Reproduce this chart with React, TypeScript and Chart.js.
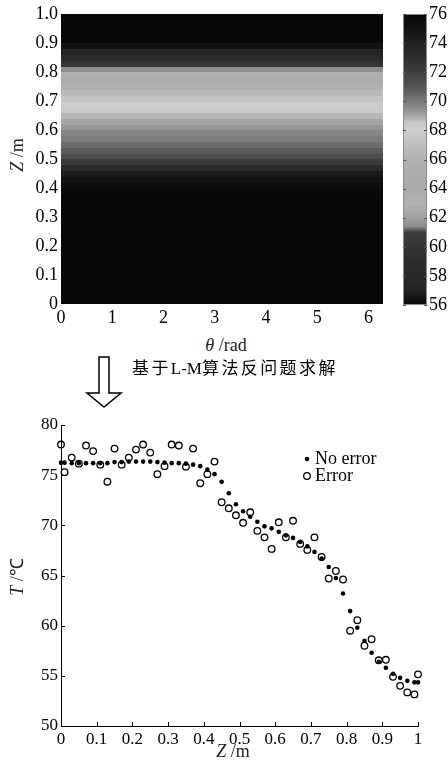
import React, { useEffect, useRef } from 'react';
import { Chart, registerables } from 'chart.js';

Chart.register(...registerables);

// ---------------- data ----------------
const zValues = [
  0, 0.01, 0.03, 0.05, 0.07, 0.09, 0.11, 0.13, 0.15, 0.17, 0.19, 0.21, 0.23, 0.25, 0.27, 0.29,
  0.31, 0.33, 0.35, 0.37, 0.39, 0.41, 0.43, 0.45, 0.47, 0.49, 0.51, 0.53, 0.55, 0.57, 0.59,
  0.61, 0.63, 0.65, 0.67, 0.69, 0.71, 0.73, 0.75, 0.77, 0.79, 0.81, 0.83, 0.85, 0.87, 0.89,
  0.91, 0.93, 0.95, 0.97, 0.99, 1.0,
];
const tNoError = [
  76.25, 76.25, 76.2, 76.2, 76.2, 76.2, 76.2, 76.2, 76.3, 76.3, 76.35, 76.35, 76.35, 76.35, 76.3, 76.25,
  76.2, 76.2, 76.15, 76.05, 75.9, 75.55, 75.1, 74.35, 73.2, 72.1, 71.4, 70.85, 70.35, 69.9, 69.7,
  69.35, 69.0, 68.75, 68.35, 67.9, 67.35, 66.7, 65.85, 64.75, 63.2, 61.45, 59.8, 58.5, 57.3, 56.4,
  55.8, 55.2, 54.8, 54.5, 54.35, 54.35,
];
const tError = [
  78.05, 75.3, 76.75, 76.15, 77.95, 77.4, 76.05, 74.35, 77.65, 76.05, 76.75, 77.55, 78.05, 77.25, 75.1, 75.9,
  78.05, 77.95, 75.85, 77.65, 74.2, 75.1, 76.35, 72.3, 71.7, 71.0, 70.25, 71.3, 69.45, 68.8, 67.65,
  70.3, 68.8, 70.45, 68.15, 67.55, 68.8, 66.85, 64.7, 65.45, 64.6, 59.5, 60.55, 58.0, 58.65, 56.55,
  56.6, 54.9, 54.0, 53.35, 53.15, 55.15,
];
const seriesLabels = ['No error', 'Error'];

const thetaMin = 0;
const thetaMax = 2 * Math.PI;
const thetaTicks = [0, 1, 2, 3, 4, 5, 6];
const heatZTicks = [0, 0.1, 0.2, 0.3, 0.4, 0.5, 0.6, 0.7, 0.8, 0.9, 1.0];
const colorbarTicks = [56, 58, 60, 62, 64, 66, 68, 70, 72, 74, 76];
const tempTicks = [50, 55, 60, 65, 70, 75, 80];
const zTicks = [0, 0.1, 0.2, 0.3, 0.4, 0.5, 0.6, 0.7, 0.8, 0.9, 1];

// colormap (temperature -> gray level)
const colormapT = [56, 57, 58, 59, 60, 61, 61.4, 62, 62.5, 63, 64, 65, 66, 67, 68, 68.5, 69, 70, 71, 72, 73, 74, 75, 76];
const colormapGray = [8, 34, 40, 45, 52, 62, 140, 160, 170, 178, 170, 172, 178, 190, 205, 200, 165, 120, 85, 62, 45, 32, 18, 8];

const SERIF = "'Liberation Serif', 'Times New Roman', serif";

function grayFor(t: number): string {
  let g = colormapGray[0];
  if (t >= colormapT[colormapT.length - 1]) g = colormapGray[colormapGray.length - 1];
  else if (t > colormapT[0]) {
    for (let i = 0; i < colormapT.length - 1; i++) {
      if (t >= colormapT[i] && t <= colormapT[i + 1]) {
        const f = (t - colormapT[i]) / (colormapT[i + 1] - colormapT[i]);
        g = colormapGray[i] + f * (colormapGray[i + 1] - colormapGray[i]);
        break;
      }
    }
  }
  const v = Math.round(g);
  return `rgb(${v},${v},${v})`;
}

const setTicks = (vals: number[]) => (scale: any) => {
  scale.ticks = vals.map((v) => ({ value: v }));
};

// heatmap plugin: rows of Z bands spanning theta range
const heatmapPlugin = {
  id: 'heatmapRows',
  beforeDatasetsDraw(chart: any) {
    const { ctx, scales } = chart;
    const x = scales.x;
    const y = scales.y;
    const x0 = Math.round(x.getPixelForValue(thetaMin));
    const x1 = Math.round(x.getPixelForValue(thetaMax));
    ctx.save();
    const n = zValues.length;
    for (let i = 0; i < n; i++) {
      const zlo = i === 0 ? 0 : (zValues[i - 1] + zValues[i]) / 2;
      const zhi = i === n - 1 ? 1 : (zValues[i] + zValues[i + 1]) / 2;
      const yTop = Math.floor(y.getPixelForValue(zhi));
      const yBot = Math.ceil(y.getPixelForValue(zlo));
      ctx.fillStyle = grayFor(tNoError[i]);
      ctx.fillRect(x0, yTop, x1 - x0, yBot - yTop);
    }
    ctx.restore();
  },
};

// colorbar plugin
const colorbarPlugin = {
  id: 'colorbarFill',
  beforeDatasetsDraw(chart: any) {
    const { ctx, chartArea: a, scales } = chart;
    const y = scales.y;
    const yLo = y.getPixelForValue(colormapT[0]);
    const yHi = y.getPixelForValue(colormapT[colormapT.length - 1]);
    const grad = ctx.createLinearGradient(0, yLo, 0, yHi);
    const span = colormapT[colormapT.length - 1] - colormapT[0];
    colormapT.forEach((t, i) => {
      const v = colormapGray[i];
      grad.addColorStop((t - colormapT[0]) / span, `rgb(${v},${v},${v})`);
    });
    ctx.save();
    ctx.fillStyle = grad;
    ctx.fillRect(a.left, a.top, a.right - a.left, a.bottom - a.top);
    ctx.strokeStyle = '#8a8a8a';
    ctx.lineWidth = 1;
    ctx.strokeRect(a.left + 0.5, a.top + 0.5, a.right - a.left - 1, a.bottom - a.top - 1);
    ctx.restore();
  },
};

// inward tick marks
const innerTicksPlugin = {
  id: 'innerTicks',
  afterDraw(chart: any, _args: any, opts: any) {
    if (!opts || !opts.enabled) return;
    const { ctx, chartArea: a, scales } = chart;
    const len = opts.length || 4;
    ctx.save();
    ctx.strokeStyle = opts.color || '#000';
    ctx.lineWidth = 1;
    ctx.beginPath();
    if (opts.xBottom) {
      for (const t of scales.x.ticks) {
        const p = Math.round(scales.x.getPixelForValue(t.value)) + 0.5;
        ctx.moveTo(p, a.bottom);
        ctx.lineTo(p, a.bottom - len);
      }
    }
    if (opts.yLeft) {
      for (const t of scales.y.ticks) {
        const p = Math.round(scales.y.getPixelForValue(t.value)) + 0.5;
        ctx.moveTo(a.left, p);
        ctx.lineTo(a.left + len, p);
      }
    }
    if (opts.yRight) {
      for (const t of scales.y.ticks) {
        const p = Math.round(scales.y.getPixelForValue(t.value)) + 0.5;
        ctx.moveTo(a.right, p);
        ctx.lineTo(a.right - len, p);
      }
    }
    ctx.stroke();
    ctx.restore();
  },
};

// legend drawn inside plot
const legendPlugin = {
  id: 'innerLegend',
  afterDraw(chart: any, _args: any, opts: any) {
    if (!opts || !opts.enabled) return;
    const { ctx } = chart;
    ctx.save();
    ctx.font = `18px ${SERIF}`;
    ctx.fillStyle = '#000';
    ctx.textBaseline = 'middle';
    ctx.textAlign = 'left';
    const items = opts.items;
    items.forEach((it: any) => {
      ctx.beginPath();
      if (it.filled) {
        ctx.fillStyle = '#000';
        ctx.arc(it.mx, it.my, 2.3, 0, Math.PI * 2);
        ctx.fill();
      } else {
        ctx.strokeStyle = '#000';
        ctx.lineWidth = 1.3;
        ctx.arc(it.mx, it.my, 3.3, 0, Math.PI * 2);
        ctx.stroke();
      }
      ctx.fillStyle = '#000';
      ctx.fillText(it.text, it.tx, it.my);
    });
    ctx.restore();
  },
};

const fmtOneDec = (v: number) => (v === 0 ? '0' : v.toFixed(1));
const fmtZ = (v: number) => (v === 0 ? '0' : v === 1 ? '1' : v.toFixed(1));

export default function App() {
  const heatRef = useRef<HTMLCanvasElement>(null);
  const cbRef = useRef<HTMLCanvasElement>(null);
  const lineRef = useRef<HTMLCanvasElement>(null);

  useEffect(() => {
    const tickFont = { family: SERIF, size: 18 };
    const tickFont2 = { family: SERIF, size: 17 };

    const heat = new Chart(heatRef.current as HTMLCanvasElement, {
      type: 'scatter',
      data: { datasets: [] },
      options: {
        responsive: false,
        animation: false,
        events: [],
        layout: { padding: { left: 0, top: 14, right: 7, bottom: 0 } },
        plugins: { legend: { display: false }, tooltip: { enabled: false } },
        scales: {
          x: {
            type: 'linear',
            min: thetaMin,
            max: thetaMax,
            afterBuildTicks: setTicks(thetaTicks),
            afterFit: (s: any) => { s.height = 26; },
            grid: { display: false, drawTicks: false },
            border: { display: false },
            ticks: { font: tickFont, color: '#000', padding: 3, autoSkip: false, maxRotation: 0, callback: (v: any) => String(v) },
          },
          y: {
            type: 'linear',
            min: 0,
            max: 1,
            afterBuildTicks: setTicks(heatZTicks),
            afterFit: (s: any) => { s.width = 61; },
            grid: { display: false, drawTicks: false },
            border: { display: false },
            ticks: { font: tickFont, color: '#000', padding: 3, autoSkip: false, callback: (v: any) => fmtOneDec(Number(v)) },
          },
        },
      } as any,
      plugins: [heatmapPlugin],
    });

    const cb = new Chart(cbRef.current as HTMLCanvasElement, {
      type: 'scatter',
      data: { datasets: [] },
      options: {
        responsive: false,
        animation: false,
        events: [],
        layout: { padding: { left: 23, top: 14, right: 0, bottom: 25 } },
        plugins: {
          legend: { display: false },
          tooltip: { enabled: false },
          innerTicks: { enabled: true, yLeft: true, yRight: true, length: 3, color: '#555' },
        },
        scales: {
          x: { type: 'linear', display: false, min: 0, max: 1 },
          y: {
            type: 'linear',
            position: 'right',
            min: colorbarTicks[0],
            max: colorbarTicks[colorbarTicks.length - 1],
            afterBuildTicks: setTicks(colorbarTicks),
            afterFit: (s: any) => { s.width = 21; },
            grid: { display: false, drawTicks: false },
            border: { display: false },
            ticks: { font: tickFont, color: '#000', padding: 2, autoSkip: false, callback: (v: any) => String(v) },
          },
        },
      } as any,
      plugins: [colorbarPlugin, innerTicksPlugin],
    });

    const line = new Chart(lineRef.current as HTMLCanvasElement, {
      type: 'scatter',
      data: {
        datasets: [
          {
            label: seriesLabels[1],
            data: zValues.map((z, i) => ({ x: z, y: tError[i] })),
            pointStyle: 'circle',
            pointRadius: 3.3,
            pointBorderWidth: 1.3,
            borderColor: '#000',
            backgroundColor: 'rgba(0,0,0,0)',
            pointBackgroundColor: 'rgba(0,0,0,0)',
            pointBorderColor: '#000',
            showLine: false,
          },
          {
            label: seriesLabels[0],
            data: zValues.map((z, i) => ({ x: z, y: tNoError[i] })),
            pointStyle: 'circle',
            pointRadius: 2.3,
            pointBorderWidth: 0,
            borderColor: '#000',
            backgroundColor: '#000',
            pointBackgroundColor: '#000',
            showLine: false,
          },
        ],
      },
      options: {
        responsive: false,
        animation: false,
        events: [],
        clip: false,
        layout: { padding: { left: 0, top: 25, right: 30, bottom: 0 } },
        plugins: {
          legend: { display: false },
          tooltip: { enabled: false },
          innerTicks: { enabled: true, xBottom: true, yLeft: true, length: 4, color: '#000' },
          innerLegend: {
            enabled: true,
            items: [
              { text: seriesLabels[0], filled: true, mx: 307, my: 59, tx: 315 },
              { text: seriesLabels[1], filled: false, mx: 307, my: 76, tx: 315 },
            ],
          },
        },
        scales: {
          x: {
            type: 'linear',
            min: 0,
            max: 1,
            afterBuildTicks: setTicks(zTicks),
            afterFit: (s: any) => { s.height = 43; },
            grid: { display: false, drawTicks: false },
            border: { display: true, color: '#000', width: 1 },
            ticks: { font: tickFont2, color: '#000', padding: 3, autoSkip: false, maxRotation: 0, callback: (v: any) => fmtZ(Number(v)) },
          },
          y: {
            type: 'linear',
            min: 50,
            max: 80,
            afterBuildTicks: setTicks(tempTicks),
            afterFit: (s: any) => { s.width = 61; },
            grid: { display: false, drawTicks: false },
            border: { display: true, color: '#000', width: 1 },
            ticks: { font: tickFont2, color: '#000', padding: 3, autoSkip: false, callback: (v: any) => String(v) },
          },
        },
      } as any,
      plugins: [innerTicksPlugin, legendPlugin],
    });

    return () => {
      heat.destroy();
      cb.destroy();
      line.destroy();
    };
  }, []);

  const abs = (extra: React.CSSProperties): React.CSSProperties => ({ position: 'absolute', whiteSpace: 'nowrap', ...extra });
  const titleFont = `18px ${SERIF}`;

  return (
    <div style={{ position: 'absolute', left: 0, top: 0, width: 448, height: 769, background: '#fff', overflow: 'hidden' }}>
      <canvas ref={heatRef} width={390} height={330} style={abs({ left: 0, top: 0, width: 390, height: 330 })} />
      <canvas ref={cbRef} width={68} height={330} style={abs({ left: 380, top: 0, width: 68, height: 330 })} />
      <canvas ref={lineRef} width={448} height={369} style={abs({ left: 0, top: 400, width: 448, height: 369 })} />

      <div style={abs({ left: 17, top: 155, transform: 'translate(-50%, -50%) rotate(-90deg)', font: titleFont, color: '#222', lineHeight: '20px' })}>
        <i>Z</i> /m
      </div>
      <div style={abs({ left: 226, top: 345, transform: 'translate(-50%, -50%)', font: titleFont, color: '#222', lineHeight: '20px' })}>
        <i>θ</i> /rad
      </div>

      <svg width={448} height={769} style={abs({ left: 0, top: 0, pointerEvents: 'none' })}>
        <polygon
          points="99,357 109,357 109,393 121,393 104,407 87,393 99,393"
          fill="#fff"
          stroke="#000"
          strokeWidth={1.5}
          strokeLinejoin="miter"
        />
      </svg>
      <div style={abs({ left: 132, top: 369, transform: 'translateY(-50%)', font: `17px 'Liberation Serif', 'Noto Sans CJK SC', serif`, letterSpacing: '2.4px', color: '#000', lineHeight: '22px' })}>
        基于<span style={{ letterSpacing: '0px' }}>L-M</span>算法反问题求解
      </div>

      <div style={abs({ left: 17, top: 577, transform: 'translate(-50%, -50%) rotate(-90deg)', font: titleFont, color: '#222', lineHeight: '20px' })}>
        <i>T</i> /℃
      </div>
      <div style={abs({ left: 233, top: 751, transform: 'translate(-50%, -50%)', font: titleFont, color: '#222', lineHeight: '20px' })}>
        <i>Z</i> /m
      </div>
    </div>
  );
}
